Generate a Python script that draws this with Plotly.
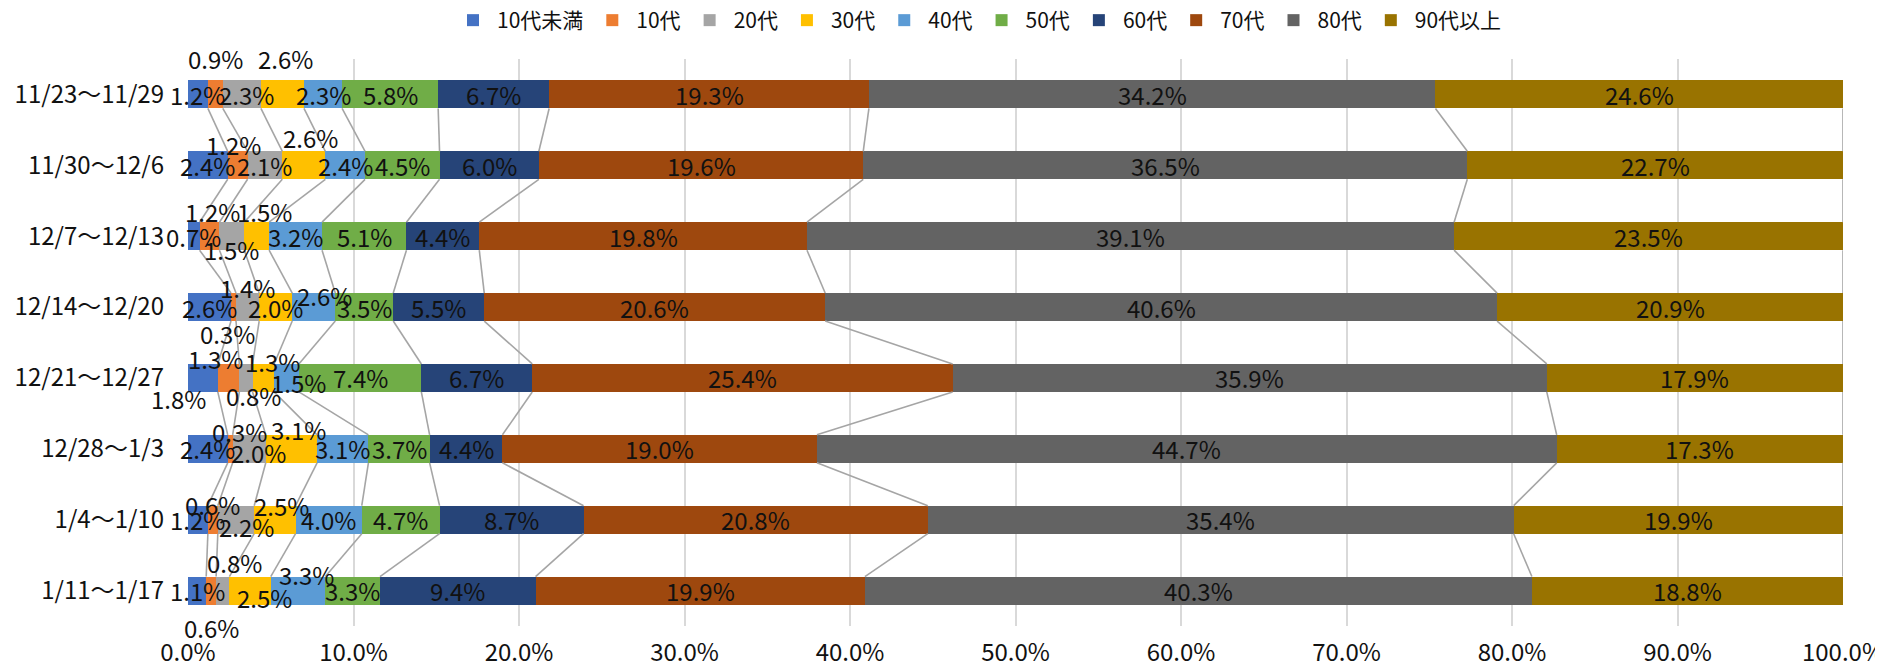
import plotly.graph_objects as go

weeks = ["11/23〜11/29", "11/30〜12/6", "12/7〜12/13", "12/14〜12/20",
         "12/21〜12/27", "12/28〜1/3", "1/4〜1/10", "1/11〜1/17"]
age_groups = ["10代未満", "10代", "20代", "30代", "40代", "50代", "60代", "70代", "80代", "90代以上"]

# share (%) per week, one list per age group
under10 = [1.2, 2.4, 0.7, 2.6, 1.8, 2.4, 1.2, 1.1]
teens = [0.9, 1.2, 1.2, 0.3, 1.3, 0.3, 0.6, 0.6]
twenties = [2.3, 2.1, 1.5, 1.4, 0.8, 2.0, 2.2, 0.8]
thirties = [2.6, 2.6, 1.5, 2.0, 1.3, 3.1, 2.5, 2.5]
forties = [2.3, 2.4, 3.2, 2.6, 1.5, 3.1, 4.0, 3.3]
fifties = [5.8, 4.5, 5.1, 3.5, 7.4, 3.7, 4.7, 3.3]
sixties = [6.7, 6.0, 4.4, 5.5, 6.7, 4.4, 8.7, 9.4]
seventies = [19.3, 19.6, 19.8, 20.6, 25.4, 19.0, 20.8, 19.9]
eighties = [34.2, 36.5, 39.1, 40.6, 35.9, 44.7, 35.4, 40.3]
over90 = [24.6, 22.7, 23.5, 20.9, 17.9, 17.3, 19.9, 18.8]

series = [under10, teens, twenties, thirties, forties, fifties, sixties, seventies, eighties, over90]
colors = ["#4472C4", "#ED7D31", "#A5A5A5", "#FFC000", "#5B9BD5",
          "#70AD47", "#264478", "#9E480E", "#636363", "#997300"]

# manual label nudges (row, series) -> (dx px, dy px, down is positive)
label_shift = {
    (0, 1): (0, -36), (0, 2): (5, 0), (0, 3): (3, -36),
    (1, 1): (-4, -21), (1, 3): (7, -28),
    (2, 1): (3, -25), (2, 2): (0, 13), (2, 3): (8, -25),
    (3, 1): (-6, 26), (3, 2): (0, -20), (3, 4): (11, -12),
    (4, 0): (-24, 21), (4, 1): (-13, -19), (4, 2): (8, 18), (4, 3): (9, -16), (4, 4): (12, 5),
    (5, 1): (9, -17), (5, 2): (9, 4), (5, 3): (7, -19),
    (6, 1): (0, -15), (6, 2): (10, 7), (6, 3): (7, -14),
    (7, 1): (0, 37), (7, 2): (12, -28), (7, 3): (14, 7), (7, 4): (8, -16),
}

FONT = "Liberation Sans Narrow, Noto Sans CJK JP"
BAR_W = 0.395
rows = list(range(len(weeks)))
W, H = 1875, 662  # page body adds an 8px offset

fig = go.Figure()
for name, vals, col in zip(age_groups, series, colors):
    fig.add_trace(go.Bar(
        y=rows, x=vals, name=name, orientation="h", width=BAR_W,
        marker=dict(color=col, line=dict(width=0)), hoverinfo="skip",
    ))

# normalised cumulative edges, as Excel's 100% stacked bar does
totals = [sum(s[i] for s in series) for i in rows]
cum = []
for i in rows:
    acc, edges = 0.0, []
    for s in series:
        acc += s[i] / totals[i] * 100
        edges.append(acc)
    cum.append(edges)

# series lines between neighbouring bars
for k in range(len(series)):
    xs, ys = [], []
    for i in rows[:-1]:
        xs += [cum[i][k], cum[i + 1][k], None]
        ys += [i + BAR_W / 2, i + 1 - BAR_W / 2, None]
    fig.add_trace(go.Scatter(
        x=xs, y=ys, mode="lines", showlegend=False, hoverinfo="skip",
        line=dict(color="#A5A5A5", width=1.6),
    ))

for i in rows:
    for k, s in enumerate(series):
        start = cum[i][k - 1] if k else 0.0
        mid = (start + cum[i][k]) / 2
        dx, dy = label_shift.get((i, k), (0, 0))
        fig.add_annotation(
            x=mid, y=i, text=f"{s[i]:.1f}%", showarrow=False,
            xshift=dx, yshift=-dy, font=dict(family=FONT, size=24, color="#111111"),
        )

fig.update_layout(
    width=W, height=H,
    barmode="stack", barnorm="percent",
    margin=dict(l=180, r=40, t=51, b=44, autoexpand=False),
    plot_bgcolor="white", paper_bgcolor="white",
    font=dict(family=FONT, size=24, color="#111111"),
    legend=dict(
        orientation="h", x=970 / W, xanchor="center", xref="container",
        y=1 - 12.5 / H, yanchor="middle", yref="container",
        traceorder="normal", font=dict(size=21), itemwidth=38,
        tracegroupgap=0,
    ),
    xaxis=dict(
        range=[0, 100], tickvals=list(range(0, 101, 10)),
        ticktext=[f"{v:.1f}%" for v in range(0, 101, 10)],
        showgrid=True, gridcolor="#D9D9D9", gridwidth=1.5,
        zeroline=False, showline=False, ticks="", ticklabelstandoff=10,
        ticklabeloverflow="allow", automargin=False,
    ),
    yaxis=dict(
        range=[len(weeks) - 0.5, -0.5], tickvals=rows, ticktext=weeks,
        showgrid=False, zeroline=False, showline=False, ticks="",
        ticklabelstandoff=23, automargin=False,
    ),
)

fig.write_html("out.html")
